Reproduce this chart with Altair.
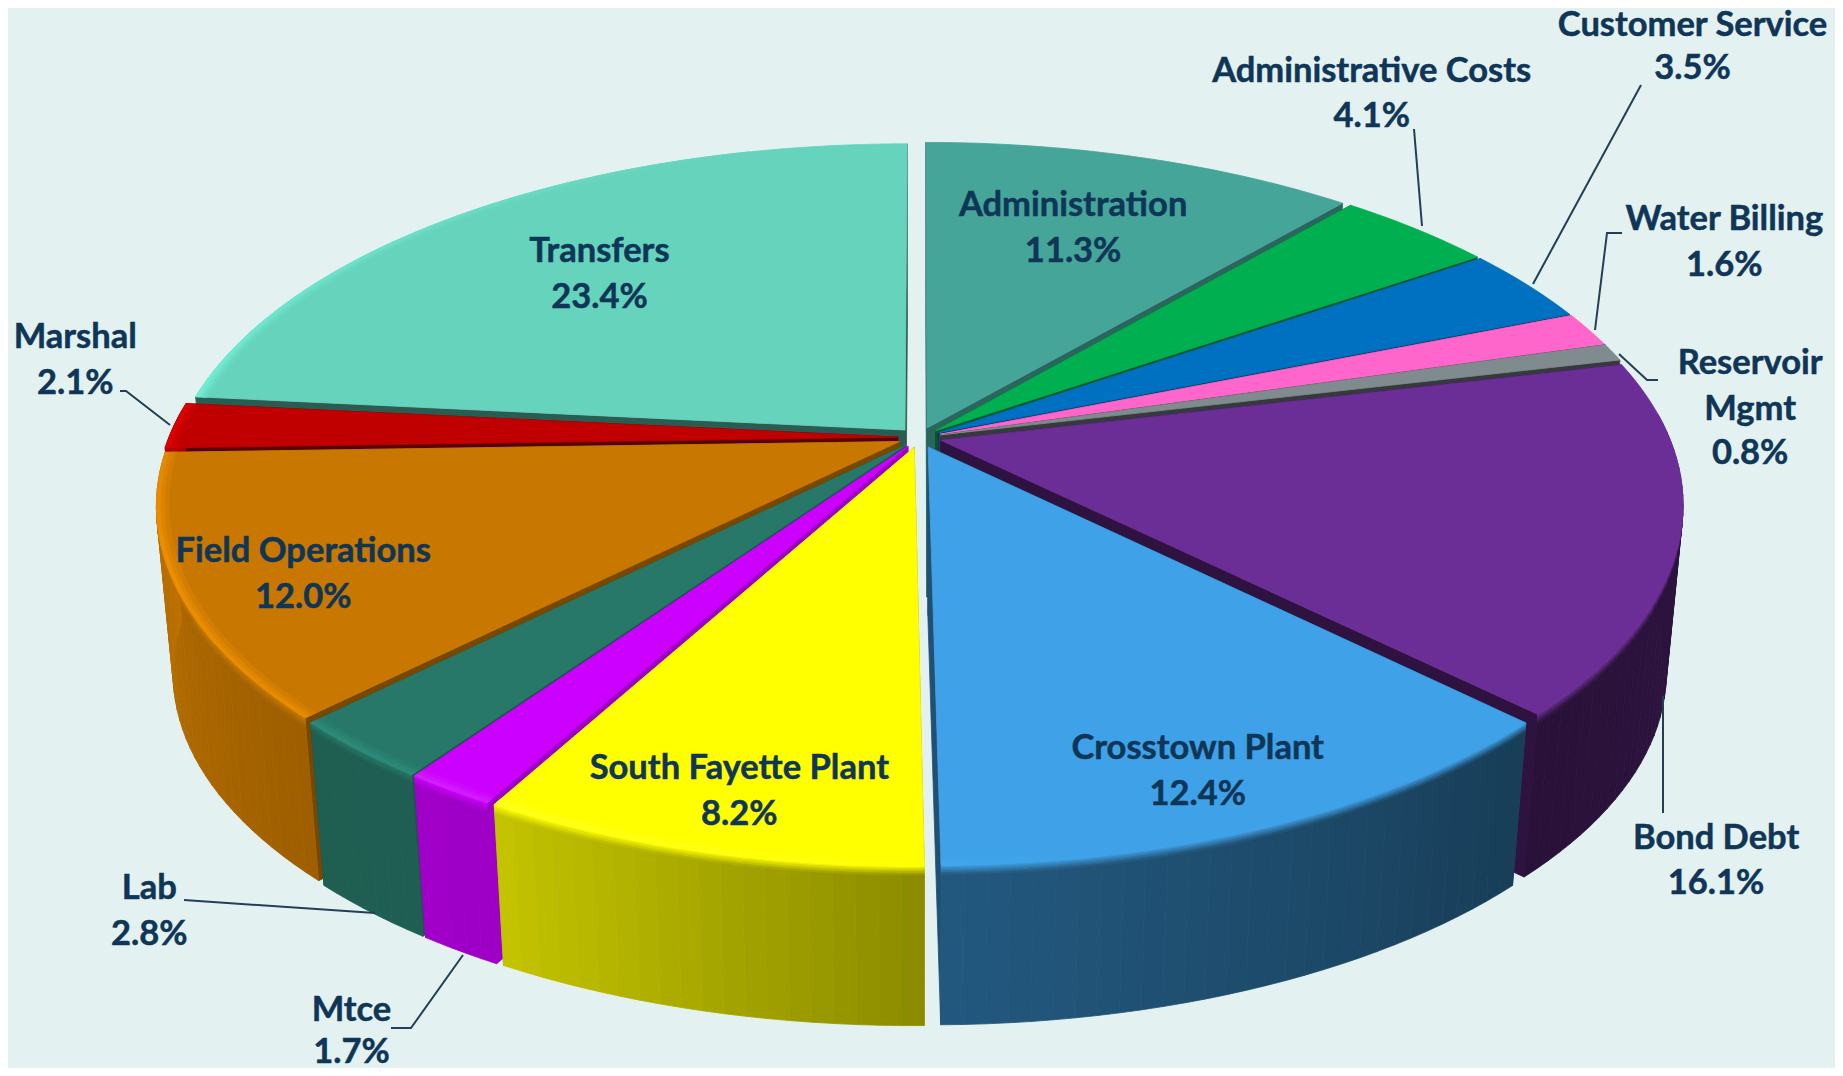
import math
import numpy as np
import pandas as pd
import altair as alt

# ---- chart values ----
names = ["Administration", "Administrative Costs", "Customer Service", "Water Billing",
         "Reservoir Mgmt", "Bond Debt", "Crosstown Plant", "South Fayette Plant", "Mtce",
         "Lab", "Field Operations", "Marshal", "Transfers"]
shares = [11.3, 4.1, 3.5, 1.6, 0.8, 16.1, 12.4, 8.2, 1.7, 2.8, 12.0, 2.1, 23.4]
colors = ["#45A598", "#00B050", "#0070C0", "#FF66CC", "#808B8F", "#6B2D96", "#3FA2E8",
          "#FFFF00", "#CC00FF", "#277868", "#C87800", "#C00000", "#66D3BC"]
cut_shade = [0.62, 0.5, 0.5, 0.5, 0.42, 0.43, 0.5, 0.6, 0.78, 0.7, 0.6, 0.45, 0.43]

# ---- layout of the tilted pie ----
W, H = 1827, 1060
OX, OY = -8, -8
CX, CY, A, B, K = 919.5, 437.5, 750.6, 350.0, 0.1843
DROP, SHRINK = 168.9, 0.978
EXPLODE = 0.029
R = 1 - EXPLODE
SC = 1843 / 1568
BG = "#E3F2F0"
INK = "#0F3557"
LEAD = "#233F55"

label_layout = {
    "Customer Service": (1440, [22, 59], ["Customer Service", "3.5%"]),
    "Administrative Costs": (1167, [61.5, 99.5], ["Administrative Costs", "4.1%"]),
    "Water Billing": (1467, [187.5, 226.5], ["Water Billing", "1.6%"]),
    "Reservoir Mgmt": (1489, [309.5, 348.5, 386.5], ["Reservoir", "Mgmt", "0.8%"]),
    "Administration": (913, [175.5, 214.5], ["Administration", "11.3%"]),
    "Transfers": (510, [214.5, 253.5], ["Transfers", "23.4%"]),
    "Marshal": (64, [287.5, 326.5], ["Marshal", "2.1%"]),
    "Field Operations": (258, [469.5, 508.5], ["Field Operations", "12.0%"]),
    "Crosstown Plant": (1019, [637.5, 676.5], ["Crosstown Plant", "12.4%"]),
    "South Fayette Plant": (629, [654.5, 693.5], ["South Fayette Plant", "8.2%"]),
    "Bond Debt": (1460, [713.5, 752.5], ["Bond Debt", "16.1%"]),
    "Lab": (127, [756.5, 795.5], ["Lab", "2.8%"]),
    "Mtce": (299, [860, 896], ["Mtce", "1.7%"]),
}
leaders = [
    [(1414, 129), (1422, 226)],
    [(1641, 85), (1533, 284)],
    [(1622, 233), (1607, 233), (1595, 330)],
    [(1658, 380), (1647, 380), (1619, 354)],
    [(1663, 696), (1663, 813)],
    [(184, 900), (375, 913)],
    [(391, 1028), (411, 1028), (463, 955)],
    [(120, 391), (126, 391), (170, 425)],
]


def rgb(h):
    return [int(h[i:i + 2], 16) for i in (1, 3, 5)]


def hexc(c):
    return "#%02X%02X%02X" % tuple(int(max(0, min(255, round(v)))) for v in c)


def shade(h, f):
    return hexc([v * f for v in rgb(h)])


def mix(a, b, t):
    ca, cb = rgb(a), rgb(b)
    return hexc([x + (y - x) * t for x, y in zip(ca, cb)])


def rim_factor(t):
    return float(np.interp(t, [70, 100, 135, 180, 210, 225, 250, 270, 290],
                           [.43, .43, .38, .55, .78, .79, .88, .95, .95]))


def glow(t):
    return float(np.interp(t, [170, 205, 250, 290, 345], [0, .7, 1.0, .5, 0]))


def disk(t, rho, mid):
    a, m = math.radians(t), math.radians(mid)
    return (rho * R * math.sin(a) + EXPLODE * math.sin(m),
            rho * R * math.cos(a) + EXPLODE * math.cos(m))


def proj(X, Y, h=0.0):
    w = 1 + K * Y
    s = 1 + (SHRINK - 1) * h
    return [CX + A * s * X / w + OX, CY + DROP * h - B * s * Y / w + OY]


def poly(pts, fill):
    ring = [list(p) for p in pts] + [list(pts[0])]
    return {"type": "Feature", "geometry": {"type": "Polygon", "coordinates": [ring]},
            "properties": {}, "fill": fill}


def arc_angles(t0, t1, step=1.5):
    n = max(2, int(math.ceil((t1 - t0) / step)) + 1)
    return list(np.linspace(t0, t1, n))


features = [poly([[0, 0], [W, 0], [W, H], [0, H]], BG)]

edges = np.cumsum([0] + shares) / sum(shares) * 360
slices = []
for i in range(len(shares)):
    mid = (edges[i] + edges[i + 1]) / 2
    slices.append((math.cos(math.radians(mid)), i, edges[i], edges[i + 1], mid))

BANDS = [0, .015, .03, .045, .06, 1]
for _, i, t0, t1, mid in sorted(slices, key=lambda s: -s[0]):
    base = colors[i]
    apex = disk(0, 0, mid)
    angs = arc_angles(t0, t1)
    # cut faces
    for t in (t0, t1):
        e = disk(t, 1, mid)
        features.append(poly([proj(*apex), proj(*e), proj(*e, 1), proj(*apex, 1)],
                             shade(base, cut_shade[i])))
    # outer wall, shaded along the rim and softly blended at its top edge
    for a0, a1 in zip(angs[:-1], angs[1:]):
        tm = (a0 + a1) / 2
        if tm < 85 or tm > 275:
            continue
        wall = shade(base, rim_factor(tm))
        p0, p1 = disk(a0, 1, mid), disk(a1, 1, mid)
        for b, (h0, h1) in enumerate(zip(BANDS[:-1], BANDS[1:])):
            f = 1 if b == len(BANDS) - 2 else (b + .5) / (len(BANDS) - 2)
            features.append(poly([proj(*p0, h0), proj(*p1, h0), proj(*p1, h1), proj(*p0, h1)],
                                 mix(base, wall, f)))
    # top face
    top = [proj(*apex)] + [proj(*disk(a, 1, mid)) for a in arc_angles(t0, t1, 1.0)]
    features.append(poly(top, base))
    # lighter bevel along the rim on the lit side
    bright = shade(base, 1.18)
    if i in (7, 8):
        bright = mix(base, "#FFFFFF", .15)
    for a0, a1 in zip(angs[:-1], angs[1:]):
        g = glow((a0 + a1) / 2)
        if g <= 0:
            continue
        for r0, r1, amt in ((.984, .990, .3), (.990, .995, .65), (.995, 1.0, 1.0)):
            features.append(poly([proj(*disk(a0, r0, mid)), proj(*disk(a1, r0, mid)),
                                  proj(*disk(a1, r1, mid)), proj(*disk(a0, r1, mid))],
                                 mix(base, bright, g * amt)))

line_features = [{"type": "Feature", "properties": {},
                  "geometry": {"type": "LineString",
                               "coordinates": [[x + OX, y + OY] for x, y in seg]}}
                 for seg in leaders]

rows = []
for name in names:
    lx, ys, lines = label_layout[name]
    for ly, txt in zip(ys, lines):
        rows.append({"lon": lx * SC + OX, "lat": ly * SC + OY, "txt": txt})
labels = pd.DataFrame(rows)

PROJ = dict(type="identity")

shapes = (alt.Chart(alt.Data(values=features))
          .mark_geoshape(strokeWidth=0.8, strokeJoin="round")
          .encode(fill=alt.Fill("fill:N", scale=None, legend=None),
                  stroke=alt.Stroke("fill:N", scale=None, legend=None))
          .project(**PROJ))

lead = (alt.Chart(alt.Data(values=line_features))
        .mark_geoshape(filled=False, stroke=LEAD, strokeWidth=2)
        .project(**PROJ))

text = (alt.Chart(labels)
        .mark_text(font="Lato", fontWeight="bold", fontSize=34.5, color=INK,
                   stroke=INK, strokeWidth=0.5,
                   align="center", baseline="middle")
        .encode(longitude="lon:Q", latitude="lat:Q", text="txt:N")
        .project(**PROJ))

chart = (alt.layer(shapes, lead, text)
         .properties(width=W, height=H, background=BG, padding=0,
                     autosize=alt.AutoSizeParams(type="none"))
         .configure_view(strokeWidth=0))

chart.save("out.html", embed_options={"renderer": "svg", "actions": False})
